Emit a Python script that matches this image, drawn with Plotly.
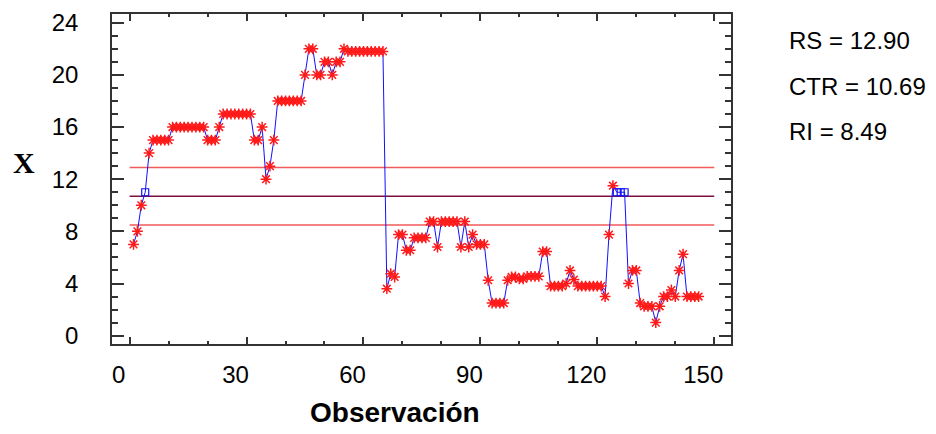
import plotly.graph_objects as go

# ---- data ----
obs = list(range(1, 147))
values = (
    [7, 8, 10, 11, 14] + [15] * 5 + [16] * 9 + [15] * 3 + [16] + [17] * 8 +
    [15, 15, 16, 12, 13, 15] + [18] * 7 + [20, 22, 22, 20, 20, 21, 21, 20, 21, 21, 22] +
    [21.8] * 10 + [3.6, 4.75, 4.5, 7.75, 7.75, 6.55, 6.55] + [7.5] * 4 +
    [8.75, 8.75, 6.8] + [8.75] * 5 + [6.8, 8.75, 6.8, 7.75, 7.0, 7.0, 7.0, 4.25] +
    [2.5] * 4 + [4.25, 4.5, 4.5, 4.35, 4.35] + [4.55] * 4 + [6.45, 6.45] +
    [3.8] * 4 + [4.0, 5.0, 4.3] + [3.8] * 7 + [3.0, 7.75, 11.5, 11.0, 11.0, 11.0] +
    [4.0, 5.0, 5.0, 2.5, 2.25, 2.25, 2.25, 1.0, 2.25, 3.0, 3.0, 3.5, 3.0, 5.0, 6.25] +
    [3.0] * 4
)
flagged = [4, 125, 126, 127]
RS, CTR, RI = 12.90, 10.69, 8.49
limit_x = [0, 150]
x_ticks = [0, 30, 60, 90, 120, 150]
y_ticks = [0, 4, 8, 12, 16, 20, 24]

FONT = "Liberation Sans, Arial, sans-serif"

fig = go.Figure()
for lvl, col in [(RS, "#f25a5a"), (CTR, "#7a1040"), (RI, "#f25a5a")]:
    fig.add_trace(go.Scatter(x=limit_x, y=[lvl, lvl], mode="lines",
                             line=dict(color=col, width=1.5), hoverinfo="skip"))

fig.add_trace(go.Scatter(x=obs, y=values, mode="lines",
                         line=dict(color="#1010ff", width=1)))
nx = [o for o, v in zip(obs, values) if o not in flagged]
ny = [v for o, v in zip(obs, values) if o not in flagged]
fx = [o for o, v in zip(obs, values) if o in flagged]
fy = [v for o, v in zip(obs, values) if o in flagged]
fig.add_trace(go.Scatter(x=nx, y=ny, mode="markers",
                         marker=dict(symbol="asterisk-open", size=9, color="#ff1a1a",
                                     line=dict(color="#ff1a1a", width=1.5))))
fig.add_trace(go.Scatter(x=fx, y=fy, mode="markers",
                         marker=dict(symbol="square-open", size=7, color="#1010ff",
                                     line=dict(color="#1010ff", width=1.2))))

# page has an 8px body margin, so the figure is sized/offset accordingly
fig.update_layout(
    width=928, height=426,
    margin=dict(l=104, r=205, t=6, b=90),
    paper_bgcolor="white", plot_bgcolor="white",
    showlegend=False,
    font=dict(family=FONT, size=24, color="black"),
    xaxis=dict(range=[-4.52, 154.3], tickvals=x_ticks, ticks="inside", ticklen=7,
               tickwidth=1.5, tickcolor="#333", automargin=False,
               minor=dict(dtick=10, ticks="inside", ticklen=3, tickcolor="#333"),
               showline=True, linecolor="#333", linewidth=1.5, mirror="ticks",
               showgrid=False, zeroline=False, ticklabelshift=-11,
               ticklabelstandoff=8, tickfont=dict(size=24)),
    yaxis=dict(range=[-0.64, 24.67], tickvals=y_ticks, ticks="inside", ticklen=12,
               tickwidth=1.5, tickcolor="#333", automargin=False,
               minor=dict(dtick=1, ticks="inside", ticklen=6, tickcolor="#333"),
               showline=True, linecolor="#333", linewidth=1.5, mirror="ticks",
               showgrid=False, zeroline=False, ticklabelstandoff=27,
               tickfont=dict(size=24)),
)

fig.add_annotation(text="<b>X</b>", x=-0.1417, y=0.549, xref="paper", yref="paper",
                   xanchor="center", yanchor="middle", showarrow=False,
                   font=dict(family="Liberation Serif, Times New Roman, serif", size=30))
fig.add_annotation(text="<b>Observación</b>", x=0.4577, y=-0.208, xref="paper", yref="paper",
                   xanchor="center", yanchor="middle", showarrow=False, font=dict(size=28))
for txt, yy in [("RS = 12.90", 0.921), ("CTR = 10.69", 0.779), ("RI = 8.49", 0.643)]:
    fig.add_annotation(text=txt, x=1.091, y=yy, xref="paper", yref="paper",
                       xanchor="left", yanchor="middle", showarrow=False, font=dict(size=24))

fig.write_html("out.html")
